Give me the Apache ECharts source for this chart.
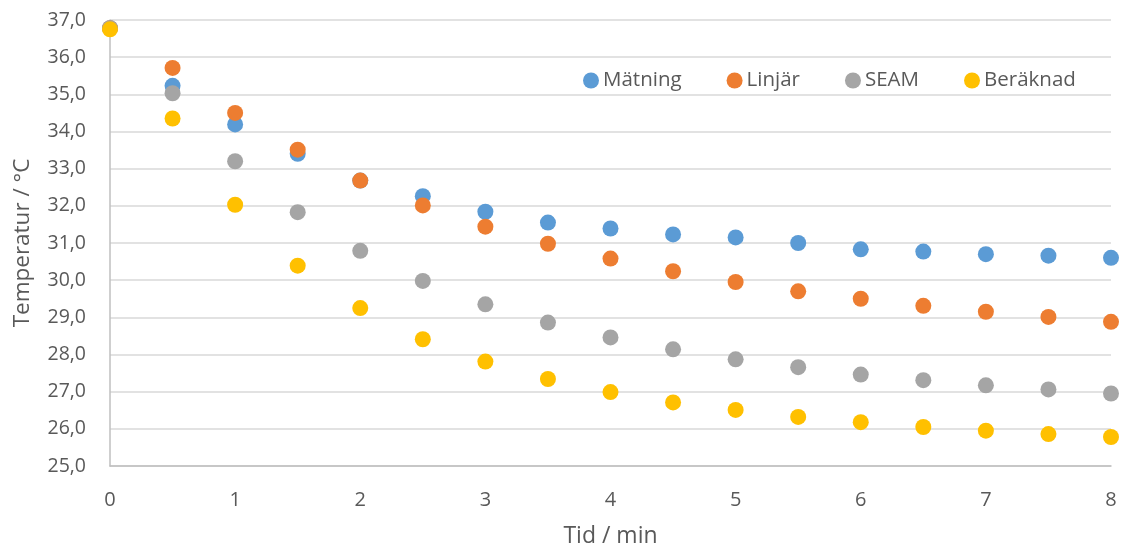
<!DOCTYPE html>
<html>
<head>
<meta charset="utf-8">
<script src="https://cdn.jsdelivr.net/npm/echarts@6/dist/echarts.min.js"></script>
<style>
  html, body { margin: 0; padding: 0; background: #fff; }
  #chart { width: 1123px; height: 553px; }
</style>
</head>
<body>
<div id="chart"></div>
<script>
// Time in minutes
const tid = [0, 0.5, 1, 1.5, 2, 2.5, 3, 3.5, 4, 4.5, 5, 5.5, 6, 6.5, 7, 7.5, 8];

// Temperatures in °C
const matning = [36.78, 35.23, 34.19, 33.40, 32.68, 32.26, 31.84, 31.55, 31.39, 31.23, 31.15, 31.00, 30.83, 30.77, 30.70, 30.66, 30.60];
const linjar  = [36.78, 35.71, 34.50, 33.51, 32.68, 32.01, 31.44, 30.98, 30.58, 30.24, 29.95, 29.70, 29.50, 29.31, 29.15, 29.01, 28.88];
const seam    = [36.78, 35.03, 33.20, 31.83, 30.79, 29.98, 29.35, 28.86, 28.46, 28.14, 27.87, 27.66, 27.46, 27.31, 27.17, 27.06, 26.95];
const berakn  = [36.75, 34.35, 32.03, 30.39, 29.25, 28.41, 27.81, 27.34, 26.99, 26.71, 26.51, 26.32, 26.18, 26.05, 25.95, 25.86, 25.78];

const seriesNames = ['Mätning', 'Linjär', 'SEAM', 'Beräknad'];
const seriesValues = [matning, linjar, seam, berakn];
const colors = ['#5b9bd5', '#ed7d31', '#a5a5a5', '#ffc000'];

const font = '"Open Sans", "Liberation Sans", sans-serif';
const textColor = '#595959';

const chart = echarts.init(document.getElementById('chart'), null, { renderer: 'canvas' });

chart.setOption({
  animation: false,
  color: colors,
  textStyle: { fontFamily: font },
  grid: { left: 110, right: 12, top: 20, bottom: 87 },
  legend: {
    data: seriesNames,
    left: 578,
    top: 65,
    icon: 'circle',
    itemWidth: 16,
    itemHeight: 16,
    itemGap: 45,
    textStyle: { color: textColor, fontSize: 20.5, fontFamily: font, padding: [0, 0, 0, -1] }
  },
  xAxis: {
    type: 'value',
    min: 0,
    max: 8,
    interval: 1,
    name: 'Tid / min',
    nameLocation: 'middle',
    nameGap: 59,
    nameTextStyle: { color: textColor, fontSize: 23, fontFamily: font },
    axisLine: { show: true, lineStyle: { color: '#bfbfbf', width: 1.5 } },
    axisTick: { show: false },
    splitLine: { show: false },
    axisLabel: { color: textColor, fontSize: 20, margin: 24, fontFamily: font }
  },
  yAxis: {
    type: 'value',
    min: 25,
    max: 37,
    interval: 1,
    name: 'Temperatur / °C',
    nameLocation: 'middle',
    nameGap: 76,
    nameTextStyle: { color: textColor, fontSize: 22.5, fontFamily: font },
    axisLine: { show: true, lineStyle: { color: '#bfbfbf', width: 1.5 } },
    axisTick: { show: false },
    splitLine: { show: true, lineStyle: { color: '#d9d9d9', width: 1.5 } },
    axisLabel: {
      color: textColor,
      fontSize: 19.5,
      margin: 24,
      fontFamily: font,
      formatter: v => v.toFixed(1).replace('.', ',')
    }
  },
  series: seriesNames.map((name, i) => ({
    name: name,
    type: 'scatter',
    symbol: 'circle',
    symbolSize: 16,
    itemStyle: { color: colors[i], opacity: 1 },
    emphasis: { disabled: true },
    data: tid.map((t, j) => [t, seriesValues[i][j]])
  }))
});
</script>
</body>
</html>
